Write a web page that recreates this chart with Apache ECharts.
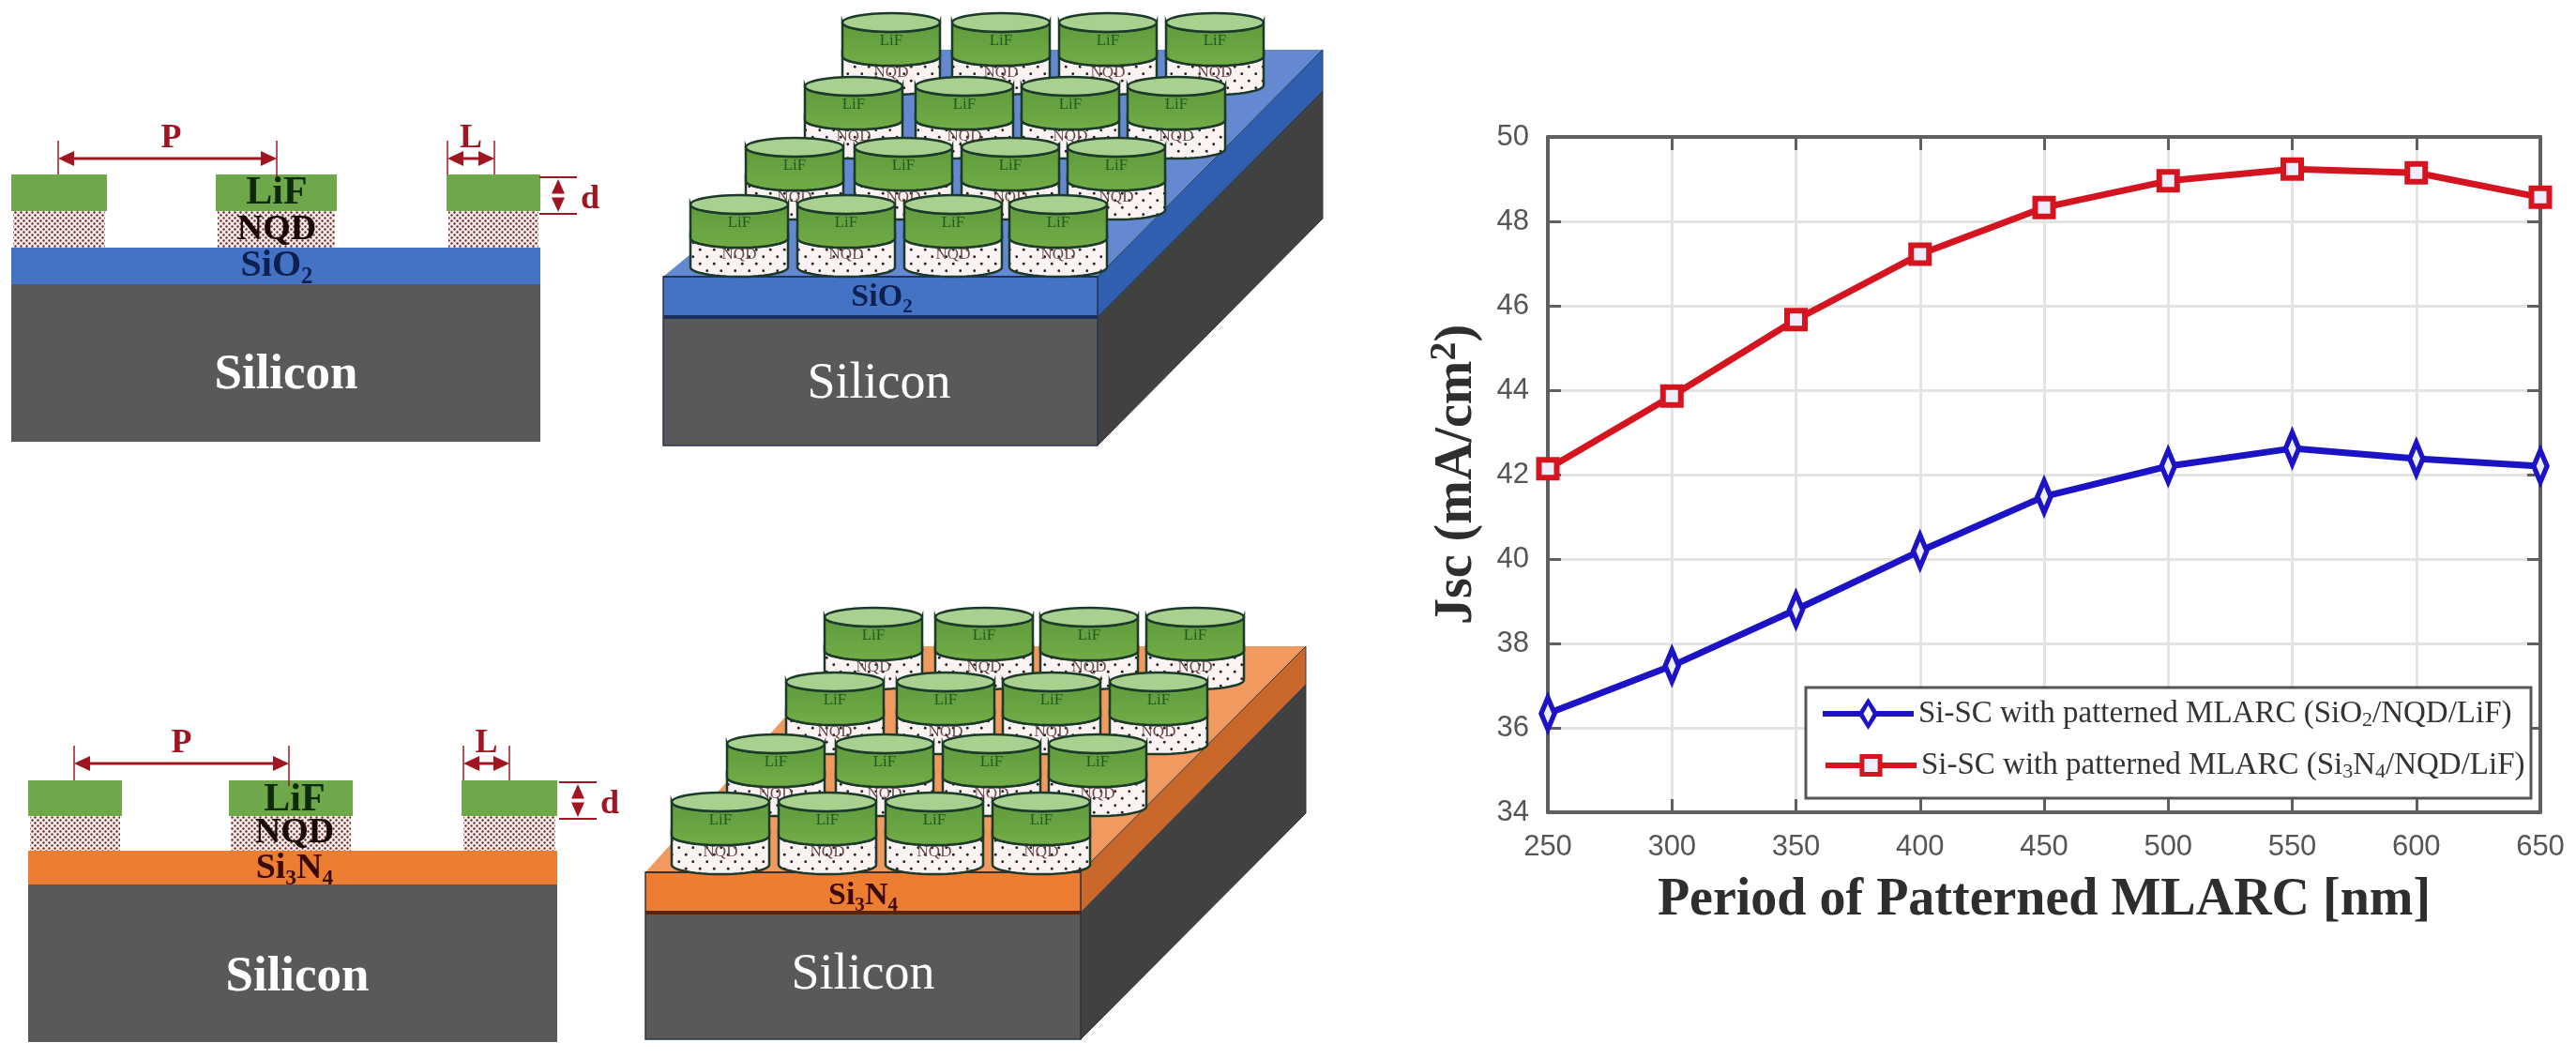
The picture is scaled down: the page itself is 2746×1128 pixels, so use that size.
<!DOCTYPE html>
<html><head><meta charset="utf-8">
<style>html,body{margin:0;padding:0;background:#fff}#c{width:2746px;height:1128px;filter:blur(0.7px)}</style>
<script src="https://cdn.jsdelivr.net/npm/echarts@6/dist/echarts.min.js"></script>
</head><body><div id="c"></div>
<script>
const periods = [250,300,350,400,450,500,550,600,650];
const jscSiO2 = [36.34,37.47,38.80,40.19,41.48,42.20,42.62,42.38,42.20];
const jscSi3N4 = [42.14,43.86,45.67,47.22,48.33,48.96,49.24,49.15,48.57];
const seriesNames = ['Si-SC with patterned MLARC (SiO2/NQD/LiF)','Si-SC with patterned MLARC (Si3N4/NQD/LiF)'];
const legendRich = ['{t|Si-SC with patterned MLARC (SiO}{s|2}{t|/NQD/LiF)}','{t|Si-SC with patterned MLARC (Si}{s|3}{t|N}{s|4}{t|/NQD/LiF)}'];
const yTicks = [34,50,2];

const SERIF = '"Liberation Serif","DejaVu Serif",serif';
function dots(step,r,bg,fg){
  const c=document.createElement('canvas');c.width=c.height=step;const x=c.getContext('2d');
  x.fillStyle=bg;x.fillRect(0,0,step,step);x.fillStyle=fg;
  x.beginPath();x.arc(step/4,step/4,r,0,7);x.fill();
  x.beginPath();x.arc(step*3/4,step*3/4,r,0,7);x.fill();
  return {image:c,repeat:'repeat'};
}
const fine=dots(6,1.2,'#f7ecec','#6a2c2c'), coarse=dots(15,1.4,'#fbf3f3','#2d2020');
const g=[];
const rect=(x,y,w,h,fill)=>g.push({type:'rect',shape:{x,y,width:w,height:h},style:{fill}});
const poly=(pts,fill,stroke,lw)=>g.push({type:'polygon',shape:{points:pts},style:{fill,stroke:stroke||null,lineWidth:lw||0}});
const line=(a,b,c,d,stroke,lw)=>g.push({type:'line',shape:{x1:a,y1:b,x2:c,y2:d},style:{stroke,lineWidth:lw}});
function text(s,x,y,size,fill,weight){
  g.push({type:'text',x,y,style:{text:s,fill,font:`${weight||'normal'} ${size}px ${SERIF}`,textAlign:'center',textVerticalAlign:'middle'}});
}
function sub(parts,x,y,size,fill,weight){
  const ctx=document.createElement('canvas').getContext('2d');
  const W=p=>{ctx.font=`${weight||'normal'} ${p[1]?size*0.62:size}px ${SERIF}`;return ctx.measureText(p[0]).width;};
  let tot=parts.reduce((a,p)=>a+W(p),0),cx=x-tot/2;
  parts.forEach(p=>{const w=W(p);
    g.push({type:'text',x:cx,y:y+(p[1]?size*0.3:0),style:{text:p[0],fill,font:`${weight||'normal'} ${p[1]?size*0.62:size}px ${SERIF}`,textAlign:'left',textVerticalAlign:'middle'}});
    cx+=w;});
}
function arrowH(x1,x2,y,col){
  line(x1+8,y,x2-8,y,col,3);
  poly([[x1,y],[x1+17,y-8],[x1+17,y+8]],col);poly([[x2,y],[x2-17,y-8],[x2-17,y+8]],col);
}
function arrowV(x,y1,y2,col){
  poly([[x,y1],[x-7,(y1+y2)/2-2],[x+7,(y1+y2)/2-2]],col);poly([[x,y2],[x-7,(y1+y2)/2+2],[x+7,(y1+y2)/2+2]],col);
}
const RED='#a01620';
function section(o){
  const [x0,x1]=o.x;
  rect(x0,o.y[3],x1-x0,o.y[4]-o.y[3],'#595959');
  rect(x0,o.y[2],x1-x0,o.y[3]-o.y[2],o.layer);
  o.pads.forEach(p=>{rect(p[0]+2,o.y[1],p[1]-p[0]-4,o.y[2]-o.y[1],fine);rect(p[0],o.y[0],p[1]-p[0],o.y[1]-o.y[0],'#6fa84a');});
  const P=o.P,L=o.L,D=o.D;
  [P[0],P[1],L[0],L[1]].forEach(x=>line(x,P[2]-19,x,o.y[0]+(x==P[1]?6:0),RED,1.5));
  arrowH(P[0],P[1],P[2],RED);arrowH(L[0],L[1],P[2],RED);
  text('P',(P[0]+P[1])/2-(o.dP||0),P[2]-21,36,RED,'bold');text('L',(L[0]+L[1])/2,P[2]-21,36,RED,'bold');
  line(D[0]-20,D[1],D[0]+20,D[1],RED,2);line(D[0]-20,D[2],D[0]+20,D[2],RED,2);
  arrowV(D[0],D[1]+2,D[2]-2,RED);text('d',D[0]+34,(D[1]+D[2])/2+4,36,RED,'bold');
}
function cyl(cx,top,w){
  const rx=w/2,ry=10,h1=36,h2=31;
  const body=(y1,y2,fill)=>{const pts=[];
    for(let i=0;i<=24;i++){const a=Math.PI*i/24;pts.push([cx+rx*Math.cos(a),y2+ry*Math.sin(a)]);}
    for(let i=24;i>=0;i--){const a=Math.PI*i/24;pts.push([cx+rx*Math.cos(a),y1+ry*Math.sin(a)]);}
    poly(pts,fill,'#1c3a2a',2.5);};
  body(top+h1,top+h1+h2,coarse);
  body(top,top+h1,{type:'linear',x:0,y:0,x2:0,y2:1,colorStops:[{offset:0,color:'#5f9a3c'},{offset:1,color:'#72ad48'}]});
  g.push({type:'ellipse',shape:{cx,cy:top,rx,ry},style:{fill:'#a9d08e',stroke:'#1c3a2a',lineWidth:2.5}});
  text('LiF',cx,top+20,17,'#1f5a1f');text('NQD',cx,top+h1+18,17,'#6a4848');
}
function block(o){
  const [l,r]=o.fx,[t,m,b]=o.fy,bx=o.bx,by=o.by;
  poly([[r,m],[bx[1],by[1]],[bx[1],by[2]],[r,b]],'#414141','#333',1);
  poly([[l,t],[r,t],[bx[1],by[0]],[bx[0],by[0]]],o.top);
  poly([[r,t],[bx[1],by[0]],[bx[1],by[1]],[r,m]],o.side,'#2a3a55',1);
  rect(l,t,r-l,m-t,o.layer);line(l,t,r,t,o.edge,2);line(l,m,r,m,o.edge,4);
  rect(l,m+2,r-l,b-m-2,'#595959');
  g.push({type:'rect',shape:{x:l,y:t,width:r-l,height:b-t},style:{fill:'none',stroke:'#27364d',lineWidth:1.5}});
  o.rows.forEach(rw=>rw[1].forEach(cx=>cyl(cx,rw[0],104)));
}
section({x:[12,576],y:[186,225,264,303,471],layer:'#4472c4',pads:[[12,114],[230,359],[476,576]],P:[62,295,169],L:[477,527],D:[595,189,228],dP:-4});
text('LiF',295,206,42,'#0d2a0d','bold');text('NQD',295,245,38,'#1a0a0a','bold');
sub([['SiO',0],['2',1]],295,284,40,'#0e2050','bold');text('Silicon',305,400,53,'#fff','bold');
section({x:[30,594],y:[832,870,907,943,1111],layer:'#ed7d31',pads:[[30,130],[244,376],[492,594]],P:[79,308,814],L:[494,543],D:[616,834,873]});
text('LiF',314,853,42,'#0d2a0d','bold');text('NQD',314,888,38,'#1a0a0a','bold');
sub([['Si',0],['3',1],['N',0],['4',1]],314,926,38,'#3a0a0a','bold');text('Silicon',317,1042,53,'#fff','bold');
block({fx:[707,1170],fy:[295,338,475],bx:[1000,1410],by:[53,97,233],top:'#6489d0',side:'#2f5fae',layer:'#4472c4',edge:'#1a3060',
 rows:[[24,[950,1067,1181,1295]],[92,[910,1028,1141,1254]],[157,[847,963,1077,1190]],[218,[788,902,1016,1128]]]});
sub([['SiO',0],['2',1]],940,317,34,'#0e2050','bold');text('Silicon',937,410,54,'#fff');
block({fx:[688,1152],fy:[930,973,1108],bx:[905,1392],by:[689,730,867],top:'#f19a5f',side:'#c9682a',layer:'#ed7d31',edge:'#5a2408',
 rows:[[658,[931,1049,1161,1274]],[727,[890,1008,1121,1235]],[793,[827,943,1057,1170]],[855,[768,882,996,1110]]]});
sub([['Si',0],['3',1],['N',0],['4',1]],920,955,34,'#3a0a0a','bold');text('Silicon',920,1040,54,'#fff');
g.push({type:'rect',z:1,shape:{x:1925,y:733,width:773,height:118},style:{fill:'#fff',stroke:'#555',lineWidth:3}});

const axisColor='#5f5f5f';
const xCommon={type:'value',min:periods[0],max:periods[periods.length-1],interval:50,
  axisLine:{show:true,onZero:false,lineStyle:{color:axisColor,width:4}},
  axisTick:{show:true,inside:true,length:14,lineStyle:{color:axisColor,width:3}}};
const yCommon={type:'value',min:yTicks[0],max:yTicks[1],interval:yTicks[2],
  axisLine:{show:true,onZero:false,lineStyle:{color:axisColor,width:4}},
  axisTick:{show:true,inside:true,length:14,lineStyle:{color:axisColor,width:3}}};
const tick={color:'#555',fontSize:31,fontFamily:'"Liberation Sans",Arial,sans-serif'};
const nameSt={fontFamily:SERIF,fontWeight:'bold',color:'#2e2e2e'};
const DIAMOND='path://M11 0L22 17L11 34L0 17Z';
const BLUE='#1c14c4',CRIMSON='#d4141f';
const LEGEND_KEY='path://M0 14H39.5L48.5 0L57.5 14H97V20H57.5L48.5 34L39.5 20H0ZM48.5 8L43.5 17L48.5 26L53.5 17Z';
const mk=(name,vals,col,symbol,size)=>({name,type:'line',data:periods.map((p,i)=>[p,vals[i]]),clip:false,z:5,
  symbol,symbolSize:size,symbolKeepAspect:true,showSymbol:true,lineStyle:{color:col,width:7},itemStyle:{color:'#eef',borderColor:col,borderWidth:6},animation:false});
const legendText={rich:{t:{fontFamily:SERIF,fontSize:33,color:'#333',lineHeight:38},s:{fontFamily:SERIF,fontSize:22,color:'#333',padding:[14,0,0,0],lineHeight:38}}};
const legendOf=(i,top,h,extra)=>({orient:'vertical',left:1943,top,align:'left',itemWidth:97,itemHeight:h,padding:0,z:6,
  data:[seriesNames[i]],formatter:n=>legendRich[seriesNames.indexOf(n)],textStyle:legendText,...extra});
const chart=echarts.init(document.getElementById('c'),null,{renderer:'canvas'});
chart.setOption({animation:false,backgroundColor:'#fff',
  grid:{left:1650,right:38,top:146,bottom:262,containLabel:false},
  xAxis:[{...xCommon,position:'bottom',axisLabel:{...tick,margin:22,showMaxLabel:true,showMinLabel:true,hideOverlap:false},
      splitLine:{show:true,lineStyle:{color:'#e4e4e4',width:3}},
      name:'Period of Patterned MLARC [nm]',nameLocation:'middle',nameGap:67,nameTextStyle:{...nameSt,fontSize:56}},
    {...xCommon,position:'top',axisLabel:{show:false},splitLine:{show:false}}],
  yAxis:[{...yCommon,position:'left',axisLabel:{...tick,margin:20,showMaxLabel:true,showMinLabel:true},
      splitLine:{show:true,lineStyle:{color:'#e4e4e4',width:3}},
      name:'{a|Jsc (mA/cm}{b|2}{a|)}',nameLocation:'middle',nameGap:64,nameRotate:90,
      nameTextStyle:{rich:{a:{...nameSt,fontSize:56,lineHeight:64},b:{...nameSt,fontSize:40,padding:[0,0,26,0],lineHeight:64}}}},
    {...yCommon,position:'right',axisLabel:{show:false},splitLine:{show:false}}],
  legend:[legendOf(0,743,34,{icon:LEGEND_KEY,symbolKeepAspect:false,itemStyle:{color:BLUE,borderWidth:0}}),
          legendOf(1,798,24,{lineStyle:{width:6},itemStyle:{borderWidth:5}})],
  series:[mk(seriesNames[0],jscSiO2,BLUE,DIAMOND,[22,34]),mk(seriesNames[1],jscSi3N4,CRIMSON,'rect',[19,19])],
  graphic:{elements:g}
});
</script></body></html>
